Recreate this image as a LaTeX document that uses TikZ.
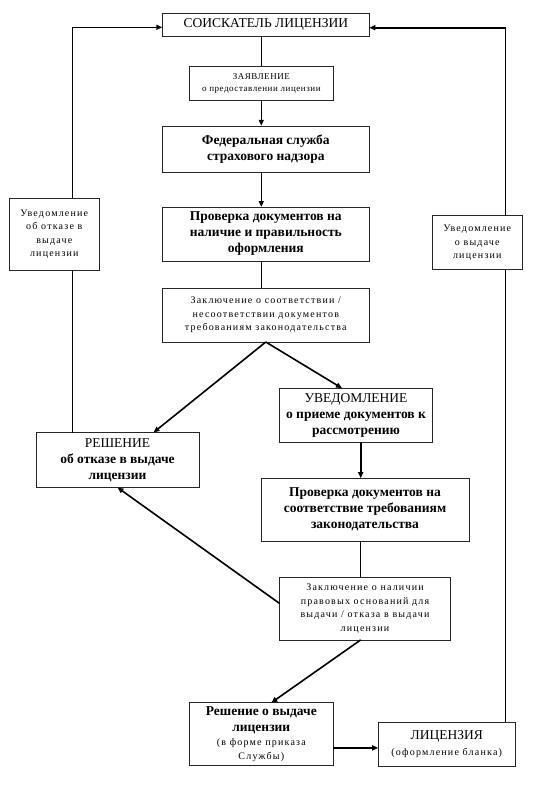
\documentclass[tikz,border=0pt]{standalone}
\usepackage{fontspec}
\setmainfont{Liberation Serif}
\newfontfamily\spacedfont{Liberation Serif}[LetterSpace=12]
\newfontfamily\lightspaced{Liberation Serif}[LetterSpace=6]
\usetikzlibrary{arrows.meta}

\newcommand\bigbf{\fontsize{13.5}{16}\selectfont\bfseries}
\newcommand\bigrm{\fontsize{13.5}{16}\selectfont\mdseries}
\newcommand\smsp{\spacedfont\fontsize{10}{13.5}\selectfont\mdseries}
\newcommand\tinysp{\lightspaced\fontsize{9}{12}\selectfont}

\begin{document}
\begin{tikzpicture}[x=1pt, y=-1pt, inner sep=0pt, outer sep=0pt,
  blk/.style={draw=black!85, line width=0.6pt, fill=white, align=center},
  arr/.style={line width=1.6pt, -{Triangle[length=6pt,width=5pt]}},
  ln/.style={line width=0.7pt}]
\useasboundingbox (0,0) rectangle (540,801);

% main column
\node[blk, font=\bigrm, minimum width=207pt, minimum height=23pt] (soisk) at (265.8,24.7)
  {СОИСКАТЕЛЬ ЛИЦЕНЗИИ};
\node[blk, font=\tinysp, minimum width=144pt, minimum height=34pt] (zayav) at (261.3,83)
  {ЗАЯВЛЕНИЕ\\ о предоставлении лицензии};
\node[blk, font=\bigbf, minimum width=207pt, minimum height=46pt] (fss) at (265.8,148.8)
  {Федеральная служба\\ страхового надзора};
\node[blk, font=\bigbf, minimum width=207pt, minimum height=54pt] (prov1) at (265.8,234)
  {Проверка документов на\\ наличие и правильность\\ оформления};
\node[blk, font=\smsp, minimum width=207pt, minimum height=54pt] (zakl1) at (265.8,315)
  {Заключение о соответствии /\\ несоответствии документов\\ требованиям законодательства};

% side notices
\node[blk, font=\smsp, minimum width=90pt, minimum height=72pt] (uvotk) at (54.3,234.2)
  {Уведомление\\ об отказе в\\ выдаче\\ лицензии};
\node[blk, font=\smsp, minimum width=90pt, minimum height=54pt] (uvvyd) at (477.3,242.7)
  {Уведомление\\ о выдаче\\ лицензии};

% lower part
\node[blk, font=\bigbf, minimum width=153pt, minimum height=54pt] (uvpr) at (356,415.2)
  {\bigrm УВЕДОМЛЕНИЕ\\ о приеме документов к\\ рассмотрению};
\node[blk, font=\bigbf, minimum width=163pt, minimum height=55pt] (resh) at (117.5,460)
  {\bigrm РЕШЕНИЕ\\ об отказе в выдаче\\ лицензии};
\node[blk, font=\bigbf, minimum width=208pt, minimum height=63pt] (prov2) at (365,509.7)
  {Проверка документов на\\ соответствие требованиям\\ законодательства};
\node[blk, font=\smsp, minimum width=171pt, minimum height=63pt] (zakl2) at (365,608.4)
  {Заключение о наличии\\ правовых оснований для\\ выдачи / отказа в выдачи\\ лицензии};
\node[blk, font=\bigbf, minimum width=144pt, minimum height=63pt] (reshvyd) at (261.3,734.2)
  {Решение о выдаче\\ лицензии\\[-2.5pt] \smsp (в форме приказа\\[-2pt] \smsp Службы)};
\node[blk, font=\bigrm, minimum width=137pt, minimum height=44pt] (lic) at (446.7,743.9)
  {ЛИЦЕНЗИЯ\\ \smsp (оформление бланка)};

\coordinate (lx) at (72.3,0);
\coordinate (rx) at (505.5,0);
\coordinate (mx) at (360.7,0);
\coordinate (ly) at ([yshift=-4pt]lic.west);
\coordinate (sy) at ([yshift=-2.6pt]soisk.west);
\coordinate (ty) at ([yshift=-3pt]soisk.east);

% connectors
\draw[ln] (zayav.north) -- (zayav.north |- soisk.south);
\draw[arr] (zayav.south) -- (zayav.south |- fss.north);
\draw[arr] (zayav.south |- fss.south) -- (zayav.south |- prov1.north);
\draw[ln] (zayav.south |- prov1.south) -- (zayav.south |- zakl1.north);
\draw[arr] (zakl1.south) -- ([xshift=36pt]resh.north);
\draw[arr] (zakl1.south) -- ([xshift=-14pt]uvpr.north);
\draw[arr] (mx |- uvpr.south) -- (mx |- prov2.north);
\draw[ln] (mx |- prov2.south) -- (mx |- zakl2.north);
\draw[arr] ([yshift=5pt]zakl2.west) -- (resh.south);
\draw[arr] (mx |- zakl2.south) -- ([xshift=10pt]reshvyd.north);
\draw[arr] (ly -| reshvyd.east) -- (ly);

% return loops
\draw[ln] (lx |- resh.north) -- (lx |- uvotk.south);
\draw[ln] (lx |- uvotk.north) -- (lx |- sy);
\draw[arr] (lx |- sy) -- (sy);
\draw[ln] (rx |- lic.north) -- (rx |- uvvyd.south);
\draw[ln] (rx |- uvvyd.north) -- (rx |- ty);
\draw[arr] (rx |- ty) -- (ty);

\end{tikzpicture}
\end{document}
